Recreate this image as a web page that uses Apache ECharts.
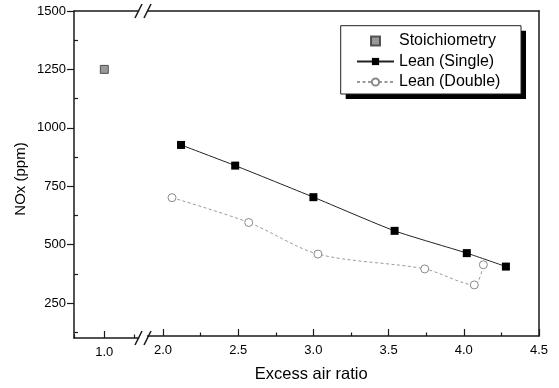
<!DOCTYPE html>
<html>
<head>
<meta charset="utf-8">
<script src="https://cdn.jsdelivr.net/npm/echarts@6/dist/echarts.min.js"></script>
<style>
html,body{margin:0;padding:0;background:#fff;}
#chart{width:559px;height:388px;}
</style>
</head>
<body>
<div id="chart"></div>
<script>
// ---- data ----
const seriesNames = ['Stoichiometry', 'Lean (Single)', 'Lean (Double)'];
const stoichX = [1.0];
const stoichY = [1250];
const singleX = [2.12, 2.48, 3.00, 3.54, 4.02, 4.28];
const singleY = [923, 834, 698, 553, 457, 399];
const doubleX = [2.06, 2.57, 3.03, 3.74, 4.07, 4.13];
const doubleY = [696, 589, 453, 389, 320, 407];
const yTickLabels = [250, 500, 750, 1000, 1250, 1500];
const yMinorTicks = [125, 375, 625, 875, 1125, 1375];
const xLeftTickLabels = [1.0];
const xLeftMinorTicks = [0.75, 1.25];
const xRightTickLabels = [2.0, 2.5, 3.0, 3.5, 4.0, 4.5];
const xRightMinorTicks = [2.25, 2.75, 3.25, 3.75, 4.25];
const xName = 'Excess air ratio';
const yName = 'NOx (ppm)';

const zip = (xs, ys) => xs.map((x, i) => [x, ys[i]]);
const FONT = 'Liberation Sans, Arial, sans-serif';
const AX = '#1a1a1a';

const G0 = {left: 74, top: 11, width: 64.5, height: 327};
const G1 = {left: 147.5, top: 11, right: 20, height: 327};

const lineOnly = (gi, pos, min, max) => ({
  gridIndex: gi, type: 'value', position: pos, min: min, max: max,
  axisLine: {show: true, lineStyle: {color: AX, width: 1.5}},
  axisTick: {show: false}, axisLabel: {show: false}, splitLine: {show: false}
});
const tickOnly = (gi, pos, min, max, vals, len) => ({
  gridIndex: gi, type: 'value', position: pos, min: min, max: max,
  axisLine: {show: false},
  axisTick: {show: true, inside: true, length: len, customValues: vals, lineStyle: {color: AX, width: 1.2}},
  axisLabel: {show: false}, splitLine: {show: false}
});

const chart = echarts.init(document.getElementById('chart'), null, {renderer: 'canvas'});
const option = {
  animation: false,
  backgroundColor: '#fff',
  grid: [
    Object.assign({}, G0),
    Object.assign({}, G1)
  ],
  xAxis: [
    {
      gridIndex: 0, type: 'value', position: 'bottom', min: 0.75, max: 1.282,
      axisLine: {show: true, lineStyle: {color: AX, width: 1.5}},
      axisTick: {show: true, inside: true, length: 7, customValues: xLeftTickLabels, lineStyle: {color: AX, width: 1.2}},
      axisLabel: {show: true, customValues: xLeftTickLabels, margin: 8, color: '#000', fontSize: 13, fontFamily: FONT,
        formatter: v => Number(v).toFixed(1)},
      splitLine: {show: false}
    },
    tickOnly(0, 'bottom', 0.75, 1.282, xLeftMinorTicks, 3.5),
    lineOnly(0, 'top', 0.75, 1.282),
    {
      gridIndex: 1, type: 'value', position: 'bottom', min: 1.897, max: 4.5,
      name: xName, nameLocation: 'middle', nameGap: 30,
      nameTextStyle: {color: '#000', fontSize: 16.5, fontFamily: FONT, padding: [0, 64, 0, 0]},
      axisLine: {show: true, lineStyle: {color: AX, width: 1.5}},
      axisTick: {show: true, inside: true, length: 7, customValues: xRightTickLabels, lineStyle: {color: AX, width: 1.2}},
      axisLabel: {show: true, customValues: xRightTickLabels, margin: 8, color: '#000', fontSize: 13, fontFamily: FONT,
        formatter: v => Number(v).toFixed(1)},
      splitLine: {show: false}
    },
    tickOnly(1, 'bottom', 1.897, 4.5, xRightMinorTicks, 3.5),
    lineOnly(1, 'top', 1.897, 4.5)
  ],
  yAxis: [
    {
      gridIndex: 0, type: 'value', position: 'left', min: 100, max: 1500,
      name: yName, nameLocation: 'middle', nameGap: 46, nameRotate: 90,
      nameTextStyle: {color: '#000', fontSize: 15, fontFamily: FONT, padding: [0, 9, 0, 0]},
      axisLine: {show: true, lineStyle: {color: AX, width: 1.5}},
      axisTick: {show: true, inside: false, length: 7, customValues: yTickLabels, lineStyle: {color: AX, width: 1.2}},
      axisLabel: {show: true, customValues: yTickLabels, margin: 8, color: '#000', fontSize: 13, fontFamily: FONT,
        formatter: v => String(Math.round(v))},
      splitLine: {show: false}
    },
    tickOnly(0, 'left', 100, 1500, yMinorTicks, 4),
    lineOnly(1, 'right', 100, 1500)
  ],
  legend: {
    orient: 'vertical', left: 356, top: 31, padding: 0, itemGap: 0.5,
    itemWidth: 37, itemHeight: 9, z: 10, symbolKeepAspect: true,
    data: [
      {name: seriesNames[0], icon: 'path://M0,0L8,0L8,8L0,8Z'},
      seriesNames[1],
      seriesNames[2]
    ],
    textStyle: {color: '#000', fontSize: 16, fontFamily: FONT, lineHeight: 20}
  },
  graphic: [
    {type: 'rect', z: 5, shape: {x: 345.7, y: 30.7, width: 180.3, height: 68.3}, style: {fill: '#000'}},
    {type: 'rect', z: 6, shape: {x: 340.7, y: 25.7, width: 180.3, height: 68.3}, style: {fill: '#fff', stroke: '#222', lineWidth: 1}},
    {type: 'line', z: 20, shape: {x1: 135, y1: 18, x2: 142, y2: 4}, style: {stroke: AX, lineWidth: 1.5}},
    {type: 'line', z: 20, shape: {x1: 144, y1: 18, x2: 151, y2: 4}, style: {stroke: AX, lineWidth: 1.5}},
    {type: 'line', z: 20, shape: {x1: 135, y1: 345, x2: 142, y2: 331}, style: {stroke: AX, lineWidth: 1.5}},
    {type: 'line', z: 20, shape: {x1: 144, y1: 345, x2: 151, y2: 331}, style: {stroke: AX, lineWidth: 1.5}}
  ],
  series: [
    {
      name: seriesNames[0], type: 'scatter', xAxisIndex: 0, yAxisIndex: 0,
      symbol: 'rect', symbolSize: 8,
      itemStyle: {color: '#808080', borderColor: '#333', borderWidth: 1},
      data: zip(stoichX, stoichY)
    },
    {
      name: seriesNames[1], type: 'line', xAxisIndex: 3, yAxisIndex: 2,
      symbol: 'rect', symbolSize: 8, smooth: 0.2,
      lineStyle: {color: '#222', width: 1},
      itemStyle: {color: '#000', borderColor: '#000', borderWidth: 0},
      data: zip(singleX, singleY)
    },
    {
      name: seriesNames[2], type: 'line', xAxisIndex: 3, yAxisIndex: 2,
      symbol: 'circle', symbolSize: 8, smooth: 0.3,
      lineStyle: {color: '#9a9a9a', width: 1, type: [3, 2.5]},
      itemStyle: {color: '#fff', borderColor: '#8a8a8a', borderWidth: 1},
      data: zip(doubleX, doubleY)
    }
  ]
};
chart.setOption(option);
</script>
</body>
</html>
